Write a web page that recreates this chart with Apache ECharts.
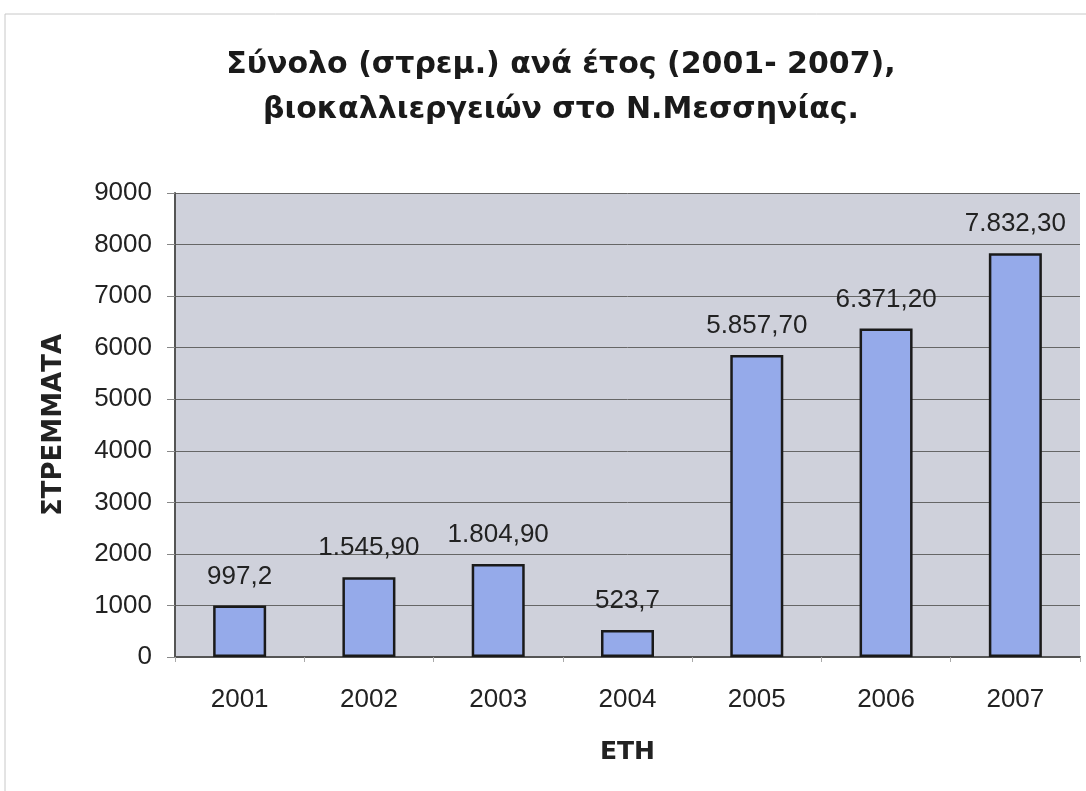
<!DOCTYPE html>
<html>
<head>
<meta charset="utf-8">
<script src="https://cdn.jsdelivr.net/npm/echarts@6/dist/echarts.min.js"></script>
<style>
  html, body { margin: 0; padding: 0; background: #fff; }
  #chart { width: 1086px; height: 791px; }
</style>
</head>
<body>
<div id="chart"></div>
<script>
const years = ['2001', '2002', '2003', '2004', '2005', '2006', '2007']
const stremmata = [997.2, 1545.9, 1804.9, 523.7, 5857.7, 6371.2, 7832.3]
const valueLabels = ['997,2', '1.545,90', '1.804,90', '523,7', '5.857,70', '6.371,20', '7.832,30']
const yTicks = [0, 1000, 2000, 3000, 4000, 5000, 6000, 7000, 8000, 9000]

const chart = echarts.init(document.getElementById('chart'))

chart.setOption({
  animation: false,
  title: {
    text: 'Σύνολο (στρεμ.) ανά έτος (2001- 2007),\nβιοκαλλιεργειών στο Ν.Μεσσηνίας.',
    left: 556,
    textAlign: 'center',
    top: 38,
    textStyle: {
      fontFamily: 'DejaVu Sans',
      fontSize: 30,
      fontWeight: 'bold',
      color: '#1a1a1a',
      lineHeight: 45
    }
  },
  // outer frame of the chart area
  graphic: [{
    type: 'rect',
    shape: { x: 5, y: 14, width: 1100, height: 800 },
    style: { fill: 'none', stroke: '#c8c8c8', lineWidth: 1 },
    silent: true
  }],
  grid: {
    left: 175,
    right: 6,
    top: 193,
    bottom: 134,
    show: true,
    backgroundColor: '#cfd1db',
    borderWidth: 0
  },
  xAxis: {
    type: 'category',
    data: years,
    name: 'ΕΤΗ',
    nameLocation: 'middle',
    nameGap: 83,
    nameTextStyle: {
      fontFamily: 'DejaVu Sans',
      fontSize: 25,
      fontWeight: 'bold',
      color: '#222'
    },
    axisLine: { lineStyle: { color: '#555', width: 2 } },
    axisTick: { show: true, length: 5, lineStyle: { color: '#aaa' } },
    axisLabel: {
      margin: 30,
      fontFamily: 'Liberation Sans',
      fontSize: 26,
      color: '#222'
    }
  },
  yAxis: {
    type: 'value',
    min: yTicks[0],
    max: yTicks[yTicks.length - 1],
    interval: 1000,
    name: 'ΣΤΡΕΜΜΑΤΑ',
    nameLocation: 'middle',
    nameGap: 108,
    nameTextStyle: {
      fontFamily: 'DejaVu Sans',
      fontSize: 26,
      fontWeight: 'bold',
      color: '#222'
    },
    axisLine: { show: true, lineStyle: { color: '#555', width: 2 } },
    axisTick: { show: true, length: 8, lineStyle: { color: '#888' } },
    axisLabel: {
      margin: 23,
      fontFamily: 'Liberation Sans',
      fontSize: 26,
      color: '#222',
      formatter: v => String(v)
    },
    splitLine: { lineStyle: { color: '#666', width: 1 } }
  },
  series: [{
    type: 'bar',
    data: stremmata,
    barWidth: '41%',
    itemStyle: {
      color: '#95aaea',
      borderColor: '#1a1a1a',
      borderWidth: 2.5
    },
    label: {
      show: true,
      position: 'top',
      distance: 16,
      fontFamily: 'Liberation Sans',
      fontSize: 26,
      color: '#222',
      formatter: p => valueLabels[p.dataIndex]
    }
  }]
})
</script>
</body>
</html>
